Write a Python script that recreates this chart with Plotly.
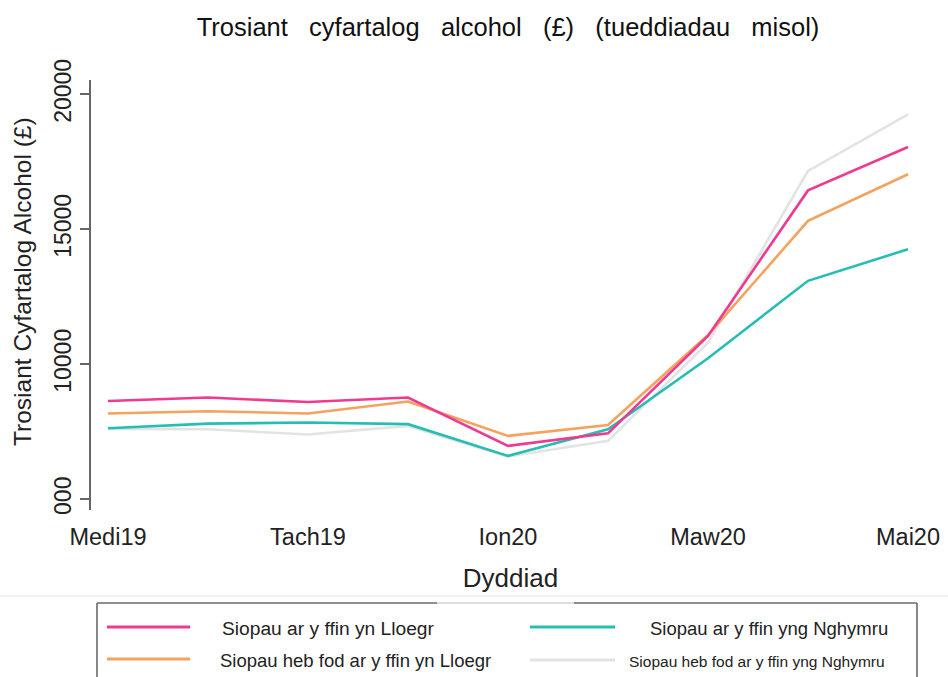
import plotly.graph_objects as go

# ---- data ----
months = ["Medi19", "Hyd19", "Tach19", "Rhag19", "Ion20", "Chwef20", "Maw20", "Ebr20", "Mai20"]
tick_months = ["Medi19", "Tach19", "Ion20", "Maw20", "Mai20"]

border_england = [8640, 8765, 8600, 8765, 6975, 7440, 11050, 16440, 18050]
nonborder_england = [8175, 8260, 8175, 8620, 7345, 7750, 11080, 15310, 17040]
border_wales = [7630, 7800, 7840, 7780, 6605, 7590, 10220, 13090, 14260]
nonborder_wales = [7600, 7590, 7395, 7715, 6580, 7160, 10800, 17160, 19260]

y_ticks = [5000, 10000, 15000, 20000]
y_ticktext = ["000", "10000", "15000", "20000"]

names = ["Siopau ar y ffin yn Lloegr", "Siopau ar y ffin yng Nghymru",
         "Siopau heb fod ar y ffin yn Lloegr", "Siopau heb fod ar y ffin yng Nghymru"]
colors = ["#EE3A8F", "#26BDB5", "#F5A25E", "#E3E3E3"]
series = [border_england, border_wales, nonborder_england, nonborder_wales]

FONT = "Liberation Sans, Arial, sans-serif"
W, H = 948, 677
ML, MR, MT, MB = 91, 18, 80, 167

fig = go.Figure()
# draw order: grey at bottom, pink on top
for i in [3, 1, 2, 0]:
    fig.add_trace(go.Scatter(x=months, y=series[i], mode="lines", name=names[i],
                             line=dict(color=colors[i], width=2.6), showlegend=False))

pw = W - ML - MR
ph = H - MT - MB


def px(x):
    return (x - ML) / pw


def py(y):
    return (H - MB - y) / ph


shapes = []
annotations = []
# faint separator line
shapes.append(dict(type="line", xref="paper", yref="paper", x0=px(0), x1=px(W),
                   y0=py(596), y1=py(596), line=dict(color="#e8eeee", width=1.5)))
# legend box
box_col = "#6a6a6a"
shapes.append(dict(type="line", xref="paper", yref="paper", x0=px(97), x1=px(437),
                   y0=py(603), y1=py(603), line=dict(color=box_col, width=1.6)))
shapes.append(dict(type="line", xref="paper", yref="paper", x0=px(437), x1=px(574),
                   y0=py(603), y1=py(603), line=dict(color="#bdbdbd", width=1)))
shapes.append(dict(type="line", xref="paper", yref="paper", x0=px(574), x1=px(917),
                   y0=py(603), y1=py(603), line=dict(color=box_col, width=1.6)))
shapes.append(dict(type="line", xref="paper", yref="paper", x0=px(97), x1=px(97),
                   y0=py(603), y1=py(690), line=dict(color=box_col, width=1.6)))
shapes.append(dict(type="line", xref="paper", yref="paper", x0=px(917), x1=px(917),
                   y0=py(603), y1=py(690), line=dict(color=box_col, width=1.6)))

# legend entries (manual)
leg_pos = [(107, 190, 627, 220, 19.2), (530, 615, 627, 648, 18.5),
           (107, 190, 659, 218, 18.5), (530, 615, 660, 627, 15.5)]
for (x0, x1, yy, tx, fs), nm, c in zip(leg_pos, names, colors):
    shapes.append(dict(type="line", xref="paper", yref="paper", x0=px(x0), x1=px(x1),
                       y0=py(yy), y1=py(yy), line=dict(color=c, width=3)))
    annotations.append(dict(text=nm, xref="paper", yref="paper", x=px(tx), y=py(yy + 1),
                            xanchor="left", yanchor="middle", showarrow=False,
                            font=dict(family=FONT, size=fs, color="#222")))

# y-axis title as annotation
annotations.append(dict(text="Trosiant Cyfartalog Alcohol (£)", xref="paper", yref="paper",
                        x=px(22), y=py(282), xanchor="center", yanchor="middle",
                        textangle=-90, showarrow=False,
                        font=dict(family=FONT, size=24.5, color="#222")))

fig.update_layout(
    width=W, height=H,
    margin=dict(l=ML, r=MR, t=MT, b=MB, autoexpand=False),
    paper_bgcolor="white", plot_bgcolor="white",
    font=dict(family=FONT, color="#222"),
    title=dict(text="Trosiant   cyfartalog   alcohol   (£)   (tueddiadau   misol)",
               x=508 / W, xref="container", xanchor="center",
               y=1 - 27 / H, yref="container", yanchor="middle",
               font=dict(family=FONT, size=25.5, color="#111")),
    xaxis=dict(type="category", range=[-0.17, 8.22], tickmode="array", tickvals=tick_months,
               ticktext=tick_months, showline=False, ticks="", showgrid=False, zeroline=False,
               automargin=False,
               tickfont=dict(family=FONT, size=23.5, color="#222"), ticklabelstandoff=10,
               title=dict(text="Dyddiad", font=dict(family=FONT, size=26, color="#222"), standoff=20)),
    yaxis=dict(range=[4600, 20530], tickmode="array", tickvals=y_ticks, ticktext=y_ticktext,
               tickangle=-90, ticks="outside", ticklen=9, tickwidth=1.5, tickcolor="#666",
               showline=True, linecolor="#666", linewidth=1.5, showgrid=False, zeroline=False,
               automargin=False,
               tickfont=dict(family=FONT, size=23, color="#222")),
    shapes=shapes,
    annotations=annotations,
)

fig.write_html("out.html", config={"displayModeBar": False},
               post_script="document.body.style.margin='0';document.body.style.overflow='hidden';")
